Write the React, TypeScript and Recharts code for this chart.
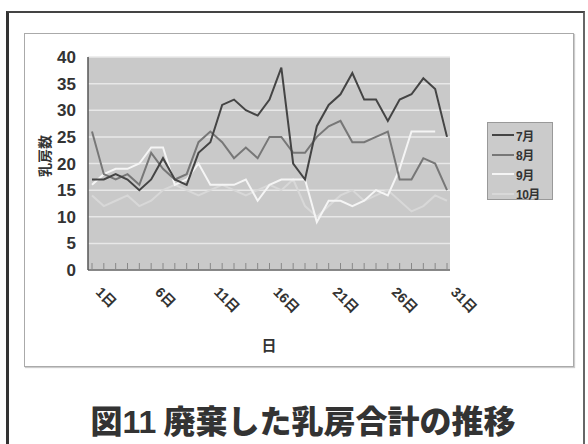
import React from "react";
import { LineChart, Line, XAxis, YAxis, CartesianGrid } from "recharts";

// 日付 (1日〜31日)
const days = Array.from({ length: 31 }, (_, i) => i + 1);

// 月ごとの廃棄乳房数
const july = [17, 17, 18, 17, 15, 17, 21, 17, 16, 22, 24, 31, 32, 30, 29, 32, 38, 20, 17, 27, 31, 33, 37, 32, 32, 28, 32, 33, 36, 34, 25];
const august = [26, 18, 17, 18, 16, 22, 19, 17, 18, 24, 26, 24, 21, 23, 21, 25, 25, 22, 22, 25, 27, 28, 24, 24, 25, 26, 17, 17, 21, 20, 15];
const september = [16, 18, 19, 19, 20, 23, 23, 16, 17, 20, 16, 16, 16, 17, 13, 16, 17, 17, 17, 9, 13, 13, 12, 13, 15, 14, 19, 26, 26, 26, null];
const october = [14, 12, 13, 14, 12, 13, 15, 16, 15, 14, 15, 16, 15, 14, 15, 16, 15, 17, 12, 10, 12, 14, 15, 13, 14, 15, 13, 11, 12, 14, 13];

const yTicks = [0, 5, 10, 15, 20, 25, 30, 35, 40];
const labelDays = [1, 6, 11, 16, 21, 26, 31];

const seriesNames = ["7月", "8月", "9月", "10月"];
const seriesColors = ["#444444", "#777777", "#f5f5f5", "#d8d8d8"];

const data = days.map((d, i) => ({
  day: d,
  m7: july[i],
  m8: august[i],
  m9: september[i],
  m10: october[i],
}));

const font = "'Liberation Sans', Arial, 'Noto Sans CJK JP', sans-serif";

function DayTick(props: any) {
  const { x, payload } = props;
  if (!labelDays.includes(payload.value)) return null;
  const tx = x + 3;
  const ty = 293;
  return (
    <text
      x={tx}
      y={ty}
      transform={`rotate(45, ${tx}, ${ty})`}
      textAnchor="start"
      fontSize={14}
      fontWeight="bold"
      fill="#333"
      fontFamily={font}
    >
      {payload.value}日
    </text>
  );
}

export default function App() {
  return (
    <div
      style={{
        position: "absolute",
        left: 0,
        top: 0,
        width: 588,
        height: 444,
        background: "#fff",
        overflow: "hidden",
        fontFamily: font,
      }}
    >
      {/* 外枠 */}
      <div
        style={{
          position: "absolute",
          left: 6,
          top: 11,
          width: 574,
          height: 450,
          borderLeft: "3px solid #333",
          borderTop: "2px solid #444",
          borderRight: "2px solid #666",
        }}
      />
      {/* グラフエリア */}
      <div
        style={{
          position: "absolute",
          left: 24,
          top: 33,
          width: 548,
          height: 332,
          border: "1px solid #aaa",
          boxShadow: "1px 1px 1px #ccc",
        }}
      />

      <div style={{ position: "absolute", left: 0, top: 0 }}>
        <LineChart
          width={588}
          height={444}
          data={data}
          margin={{ top: 57, right: 138, bottom: 134, left: 28 }}
        >
          <CartesianGrid vertical={false} fill="#c9c9c9" stroke="#e8e8e8" strokeWidth={1.5} />
          <XAxis
            dataKey="day"
            interval={0}
            tick={<DayTick />}
            tickSize={-7}
            tickLine={{ stroke: "#888" }}
            axisLine={{ stroke: "#666", strokeWidth: 1.5 }}
            padding={{ left: 4, right: 3 }}
            height={40}
          />
          <YAxis
            domain={[0, 40]}
            ticks={yTicks}
            interval={0}
            width={60}
            tickLine={false}
            tickMargin={6}
            axisLine={{ stroke: "#555", strokeWidth: 1.5 }}
            tick={{ fontSize: 17, fontWeight: "bold", fill: "#333", fontFamily: font }}
          />
          <Line dataKey="m10" name="10月" stroke={seriesColors[3]} strokeWidth={2} dot={false} isAnimationActive={false} />
          <Line dataKey="m9" name="9月" stroke={seriesColors[2]} strokeWidth={2} dot={false} isAnimationActive={false} />
          <Line dataKey="m8" name="8月" stroke={seriesColors[1]} strokeWidth={2} dot={false} isAnimationActive={false} />
          <Line dataKey="m7" name="7月" stroke={seriesColors[0]} strokeWidth={2} dot={false} isAnimationActive={false} />
        </LineChart>
      </div>

      {/* 縦軸タイトル */}
      <div
        style={{
          position: "absolute",
          left: 44,
          top: 156,
          transform: "translate(-50%, -50%) rotate(-90deg)",
          fontSize: 14,
          fontWeight: "bold",
          color: "#333",
          whiteSpace: "nowrap",
        }}
      >
        乳房数
      </div>

      {/* 横軸タイトル */}
      <div
        style={{
          position: "absolute",
          left: 269,
          top: 344,
          transform: "translate(-50%, -50%)",
          fontSize: 15,
          fontWeight: "bold",
          color: "#333",
        }}
      >
        日
      </div>

      {/* 凡例 */}
      <div
        style={{
          position: "absolute",
          left: 487,
          top: 122,
          width: 66,
          height: 78,
          background: "#cbcbcb",
          border: "1px solid #999",
          boxSizing: "border-box",
        }}
      >
        {seriesNames.map((n, i) => (
          <div
            key={n}
            style={{
              position: "absolute",
              left: 4,
              top: 4 + i * 19.5,
              height: 16,
              display: "flex",
              alignItems: "center",
            }}
          >
            <div style={{ width: 22, height: 2, background: seriesColors[i] }} />
            <span style={{ fontSize: 12, fontWeight: "bold", color: "#333", marginLeft: 2, letterSpacing: -0.5 }}>{n}</span>
          </div>
        ))}
      </div>

      {/* 図タイトル */}
      <div
        style={{
          position: "absolute",
          left: 303,
          top: 419,
          transform: "translate(-50%, -50%)",
          fontSize: 32,
          fontWeight: 900,
          color: "#333",
          whiteSpace: "nowrap",
          fontFamily: "'Noto Sans CJK JP', sans-serif",
        }}
      >
        図<span style={{ fontFamily: "'Liberation Sans', Arial, sans-serif", fontWeight: "bold" }}>11</span> 廃棄した乳房合計の推移
      </div>
    </div>
  );
}
